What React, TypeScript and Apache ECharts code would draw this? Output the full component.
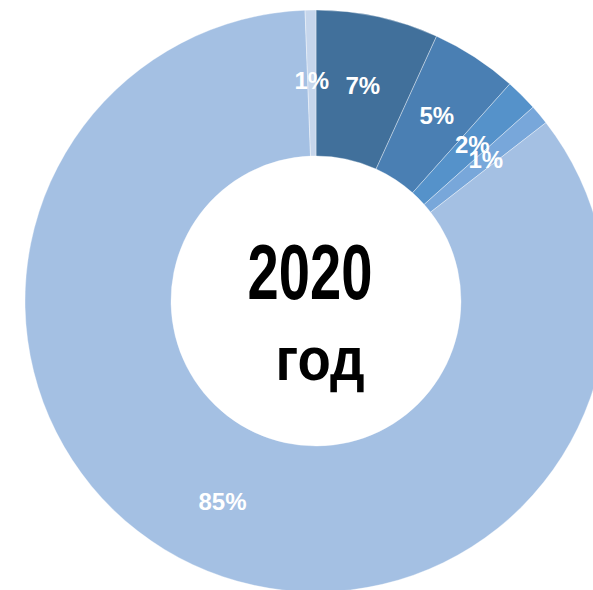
import React, { useEffect, useRef } from "react";
import * as echarts from "echarts";

const categories = ["A", "B", "C", "D", "E", "F"];
const values = [6.8, 4.8, 1.8, 1.1, 84.9, 0.6];
const colors = ["#41709b", "#4a7fb3", "#5592ca", "#78a7da", "#a4c0e3", "#c6d6ec"];
const centerLines = ["2020", "год"];

export default function App() {
  const ref = useRef<HTMLDivElement>(null);
  useEffect(() => {
    const chart = echarts.init(ref.current!, null, { renderer: "svg" });
    chart.setOption({
      animation: false,
      backgroundColor: "#ffffff",
      graphic: [
        {
          type: "text",
          x: 310,
          y: 310,
          scaleX: 0.72,
          style: {
            text: centerLines[0],
            fill: "#000",
            font: 'bold 78px "Liberation Sans", Arial, sans-serif',
            textAlign: "center",
            textVerticalAlign: "bottom",
          },
        },
        {
          type: "text",
          x: 320,
          y: 389,
          scaleX: 0.88,
          style: {
            text: centerLines[1],
            fill: "#000",
            font: 'bold 62px "Liberation Sans", Arial, sans-serif',
            textAlign: "center",
            textVerticalAlign: "bottom",
          },
        },
      ],
      series: [
        {
          type: "pie",
          center: [316, 301],
          radius: [145, 291],
          startAngle: 90,
          clockwise: true,
          avoidLabelOverlap: false,
          labelLayout: { hideOverlap: false },
          itemStyle: { borderColor: "rgba(255,255,255,0.6)", borderWidth: 0.6 },
          label: {
            show: true,
            position: "inside",
            color: "#fff",
            fontWeight: "bold",
            fontSize: 24,
            fontFamily: '"Liberation Sans", Arial, sans-serif',
            formatter: (p: any) => Math.round(p.value) + "%",
          },
          labelLine: { show: false },
          data: categories.map((c, i) => ({
            name: c,
            value: values[i],
            itemStyle: { color: colors[i] },
          })),
        },
      ],
    });
    return () => chart.dispose();
  }, []);
  return (
    <div
      ref={ref}
      style={{ position: "fixed", left: 0, top: 0, width: 593, height: 590 }}
    />
  );
}
